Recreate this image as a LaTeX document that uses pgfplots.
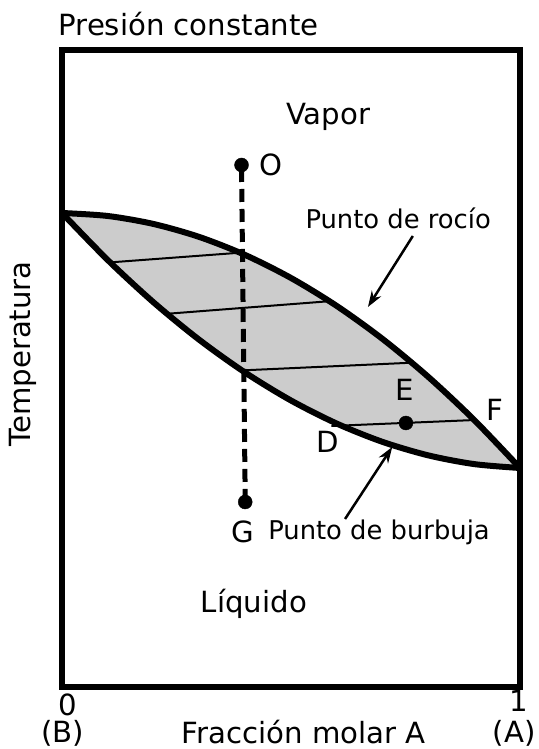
\documentclass[border=0pt]{standalone}
\usepackage{pgfplots}
\pgfplotsset{compat=1.18}
\usepgfplotslibrary{fillbetween}
\usetikzlibrary{arrows.meta}
\usepackage{fontspec}
\setmainfont{DejaVu Sans}
\newcommand{\fbig}{\fontsize{29.2bp}{34bp}\selectfont}
\newcommand{\fmid}{\fontsize{25.8bp}{30bp}\selectfont}
\begin{document}
\begin{tikzpicture}
\begin{axis}[
  at={(62bp,62bp)}, anchor=south west,
  scale only axis, width=458bp, height=637bp,
  xmin=0, xmax=1, ymin=0, ymax=637,
  xtick=\empty, ytick=\empty,
  axis line style={line width=6bp},
  clip=false,
]
% dew point (upper) curve
\addplot[draw=none, smooth, name path=up] coordinates {
(0,474) (0.1,471) (0.2,463) (0.3,450) (0.4,432) (0.5,409) (0.6,381)
(0.7,348) (0.8,310) (0.9,267) (1,219)};
% bubble point (lower) curve
\addplot[draw=none, smooth, name path=lo] coordinates {
(0,474) (0.1,426.9) (0.2,384.6) (0.3,347.1) (0.4,314.4) (0.5,286.5) (0.6,263.4)
(0.7,245.1) (0.8,231.6) (0.9,222.9) (1,219)};
\addplot[fill=gray!40, draw=none] fill between[of=up and lo];
% tie lines
\addplot[line width=2bp] coordinates {(0.105,424.6) (0.389,434.3)};
\addplot[line width=2bp] coordinates {(0.229,373.2) (0.590,386)};
\addplot[line width=2bp] coordinates {(0.393,316.6) (0.764,324.3)};
\addplot[line width=2bp] coordinates {(0.588,261) (0.902,267)};
% curves drawn
\addplot[line width=6bp, smooth] coordinates {
(0,474) (0.1,471) (0.2,463) (0.3,450) (0.4,432) (0.5,409) (0.6,381)
(0.7,348) (0.8,310) (0.9,267) (1,219)};
\addplot[line width=6bp, smooth] coordinates {
(0,474) (0.1,426.9) (0.2,384.6) (0.3,347.1) (0.4,314.4) (0.5,286.5) (0.6,263.4)
(0.7,245.1) (0.8,231.6) (0.9,222.9) (1,219)};
% dashed vertical path O-G
\addplot[line width=5bp, dash pattern=on 13bp off 7bp] coordinates {(0.392,518) (0.400,190)};
% points
\addplot[only marks, mark=*, mark size=7bp, mark options={fill=black}] coordinates {
(0.392,522) (0.400,185) (0.751,264)};
% arrows
\draw[line width=2.5bp, -{Stealth[length=16bp, width=11bp]}] (axis cs:0.766,451) -- (axis cs:0.668,380);
\draw[line width=2.5bp, -{Stealth[length=16bp, width=11bp]}] (axis cs:0.618,168) -- (axis cs:0.721,240);
% texts
\node[anchor=west, font=\fbig, inner sep=0pt] at (axis cs:-0.008,663) {Presión constante};
\node[font=\fbig] at (axis cs:0.581,570) {Vapor};
\node[font=\fbig] at (axis cs:0.456,522) {O};
\node[font=\fmid] at (axis cs:0.734,469) {Punto de rocío};
\node[font=\fbig] at (axis cs:0.749,297) {E};
\node[font=\fbig] at (axis cs:0.945,277) {F};
\node[font=\fbig] at (axis cs:0.581,245) {D};
\node[font=\fbig] at (axis cs:0.395,155) {G};
\node[anchor=west, font=\fmid, inner sep=0pt] at (axis cs:0.450,155) {Punto de burbuja};
\node[font=\fbig] at (axis cs:0.419,83) {Líquido};
\node[font=\fbig, rotate=90] at (axis cs:-0.085,333) {Temperatura};
\node[font=\fbig, inner sep=0pt] at (axis cs:0.013,-18) {0};
\node[font=\fbig, inner sep=0pt] at (axis cs:0.998,-14) {1};
\node[font=\fbig, inner sep=0pt] at (axis cs:0.002,-46) {(B)};
\node[font=\fbig, inner sep=0pt] at (axis cs:0.987,-46) {(A)};
\node[font=\fbig, inner sep=0pt, anchor=base] at (axis cs:0.528,-56) {Fracción molar A};
\end{axis}
\pgfresetboundingbox
\useasboundingbox (0,0) rectangle (539bp,749bp);
\end{tikzpicture}
\end{document}
